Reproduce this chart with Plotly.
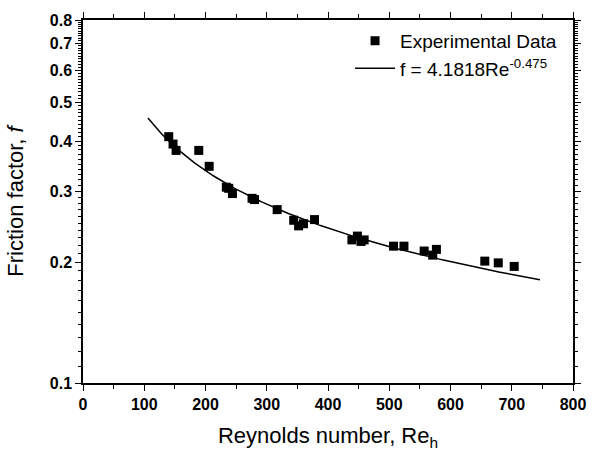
import numpy as np
import plotly.graph_objects as go

re_exp = [140, 147, 152, 189, 206, 234, 238, 244, 276, 280, 317, 344, 352, 360, 378,
          439, 448, 454, 459, 507, 524, 557, 571, 577, 656, 678, 704]
f_exp = [0.410, 0.393, 0.379, 0.379, 0.346, 0.307, 0.305, 0.296, 0.288, 0.286, 0.270,
         0.254, 0.246, 0.249, 0.255, 0.227, 0.232, 0.225, 0.227, 0.219, 0.219, 0.213,
         0.208, 0.215, 0.201, 0.199, 0.195]

# Fitted correlation shown in legend: f = 4.1818 Re^-0.475
fit_coef = 4.1818
fit_exp = -0.475
fit_re_min, fit_re_max = 106, 746

x_ticks = [0, 100, 200, 300, 400, 500, 600, 700, 800]
y_ticks = [0.1, 0.2, 0.3, 0.4, 0.5, 0.6, 0.7, 0.8]
y_ticklabels = ["0.1", "0.2", "0.3", "0.4", "0.5", "0.6", "0.7", "0.8"]

re_fit = np.linspace(fit_re_min, fit_re_max, 200)
f_fit = fit_coef * re_fit ** fit_exp

y_minor = [round(v, 2) for v in np.arange(0.11, 0.80, 0.01) if round(v, 2) not in y_ticks]
FONT = "Arial, Liberation Sans, sans-serif"
YR = [np.log10(0.1), np.log10(0.8)]

fig = go.Figure()
fig.add_trace(go.Scatter(
    x=re_exp, y=f_exp, mode="markers", name="Experimental Data",
    marker=dict(symbol="square", size=9, color="black", line=dict(width=0)),
))
fig.add_trace(go.Scatter(
    x=re_fit, y=f_fit, mode="lines", name="f = 4.1818Re<sup>-0.475</sup>",
    line=dict(color="black", width=1.5),
))

fig.update_layout(
    width=598, height=460,
    margin=dict(l=83, r=15, t=14, b=77),
    paper_bgcolor="white", plot_bgcolor="white",
    font=dict(family=FONT, color="black"),
    showlegend=True,
    legend=dict(
        x=0.545, y=0.995, xanchor="left", yanchor="top",
        bgcolor="rgba(0,0,0,0)", font=dict(size=19, family=FONT),
        tracegroupgap=0, itemwidth=40,
    ),
    xaxis=dict(
        range=[0, 800], tickvals=x_ticks, ticktext=["<b>%d</b>" % v for v in x_ticks],
        ticks="outside", ticklen=6, tickwidth=1.3, tickcolor="black",
        showline=True, linecolor="black", linewidth=1.5, mirror="allticks",
        showgrid=False, zeroline=False,
        tickfont=dict(size=16, family=FONT, weight=700),
        minor=dict(dtick=50, tick0=0, ticks="outside", ticklen=4, tickwidth=1.2, tickcolor="black"),
        title=dict(text="Reynolds number, Re<sub>h</sub>", font=dict(size=22, family=FONT), standoff=16),
    ),
    yaxis=dict(
        type="log", range=YR,
        tickvals=y_ticks, ticktext=["<b>%s</b>" % t for t in y_ticklabels],
        ticks="outside", ticklen=6, tickwidth=1.3, tickcolor="black",
        showline=True, linecolor="black", linewidth=1.5, mirror="allticks",
        showgrid=False, zeroline=False,
        tickfont=dict(size=16, family=FONT, weight=700),
        minor=dict(tickvals=y_minor, ticks="outside", ticklen=3, tickwidth=1, tickcolor="black"),
        title=dict(text="Friction factor, <i>f</i>", font=dict(size=22, family=FONT), standoff=20),
    ),
)

fig.write_html("out.html")
